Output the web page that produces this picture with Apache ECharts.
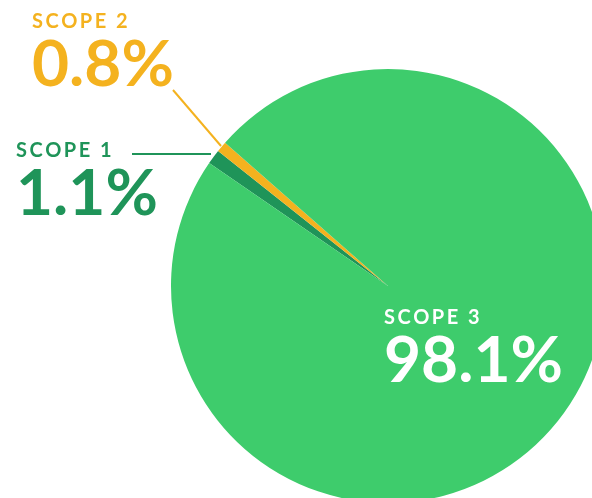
<!DOCTYPE html>
<html>
<head>
<meta charset="utf-8">
<title>scope pie</title>
<script src="https://cdn.jsdelivr.net/npm/echarts@6/dist/echarts.min.js"></script>
<style>
html,body{margin:0;padding:0;background:#fff;}
#container{width:592px;height:498px;}
</style>
</head>
<body>
<div id="container"></div>
<script>
    var names = ['SCOPE 1', 'SCOPE 2', 'SCOPE 3'];
    var values = [1.1, 0.8, 98.1];
    var colors = ['#1f9459', '#f4b21f', '#3ecc6c'];

    // where each label sits (top-left corner) and its leader line
    var layouts = [
        {x: 16, y: 137, line: [[211, 154], [170, 154], [132, 154]]},
        {x: 32, y: 8, line: [[221, 146], [197, 118], [173, 90]]},
        {x: 384, y: 304, line: null}
    ];

    function spaced(s) {
        return s.split('').join('\u2009');
    }

    var data = names.map(function (n, i) {
        var c = i == 2 ? '#ffffff' : colors[i];
        return {
            name: n,
            value: values[i],
            itemStyle: {color: colors[i]},
            label: {
                show: true,
                position: i == 2 ? 'inside' : 'outside',
                overflow: 'none',
                formatter: function (p) {
                    return '{a|' + spaced(p.name) + '}\n{b|' + p.value + '%}';
                },
                rich: {
                    a: {fontFamily: 'Lato', fontWeight: 'bold', fontSize: 20, lineHeight: 27, color: c},
                    b: {fontFamily: 'Lato', fontWeight: 'bold', fontSize: 64, lineHeight: 60, color: c}
                }
            },
            labelLine: {
                show: i != 2,
                lineStyle: {color: colors[i], width: 2}
            }
        };
    });

    var option = {
        animation: false,
        series: [{
            type: 'pie',
            center: [388, 286],
            radius: 217,
            startAngle: 145.5,
            clockwise: true,
            silent: true,
            label: {show: true, overflow: 'none'},
            labelLayout: function (p) {
                var l = layouts[p.dataIndex];
                var r = {x: l.x, y: l.y, align: 'left', verticalAlign: 'top'};
                if (l.line) r.labelLinePoints = l.line;
                return r;
            },
            data: data
        }]
    };
    var myChart = echarts.init(document.getElementById('container'));
    myChart.setOption(option, true);
</script>
</body>
</html>
